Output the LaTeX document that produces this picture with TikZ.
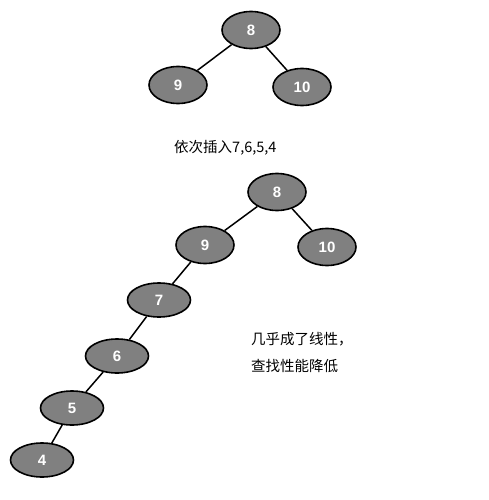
\documentclass[tikz,border=0pt]{standalone}
\usepackage{fontspec}
\newfontfamily\cjkfont{Noto Sans CJK SC}
\newfontfamily\numfont{Liberation Sans}
\usetikzlibrary{shapes.geometric}
\begin{document}
\begin{tikzpicture}[x=1pt,y=-1pt,
  tnode/.style={ellipse,draw=black,line width=1.6pt,fill={rgb,255:red,128;green,128;blue,128},
    minimum width=58pt,minimum height=37pt,inner sep=0pt,text=white,
    font=\numfont\bfseries\fontsize{15}{17}\selectfont},
  wnode/.style={tnode,minimum width=63pt,minimum height=34pt},
  edge/.style={draw=black,line width=1.5pt},
  label/.style={anchor=west,inner sep=0pt,font=\cjkfont\fontsize{14.5}{17}\selectfont}]
\useasboundingbox (0,0) rectangle (489,500);
% top tree
\node[tnode] (a8) at (251,30) {8};
\node[tnode] (a9) at (178,85) {9};
\node[tnode] (a10) at (302,87) {10};
\draw[edge] (a8) -- (a9);
\draw[edge] (a8) -- (a10);
\node[label] (t1) at (174,148) {依次插入7,6,5,4};
% bottom tree
\node[tnode] (b8) at (277,192) {8};
\node[tnode] (b9) at (205,245) {9};
\node[tnode] (b10) at (327,247) {10};
\node[wnode] (b7) at (159,300) {7};
\node[wnode] (b6) at (117,356) {6};
\node[wnode] (b5) at (72,408) {5};
\node[wnode] (b4) at (42,460) {4};
\draw[edge] (b8) -- (b9);
\draw[edge] (b8) -- (b10);
\draw[edge] (b9) -- (b7);
\draw[edge] (b7) -- (b6);
\draw[edge] (b6) -- (b5);
\draw[edge] (b5) -- (b4);
\node[label] (t2) at (251,339) {几乎成了线性，};
\node[label] (t3) at (251,366) {查找性能降低};
\end{tikzpicture}
\end{document}
